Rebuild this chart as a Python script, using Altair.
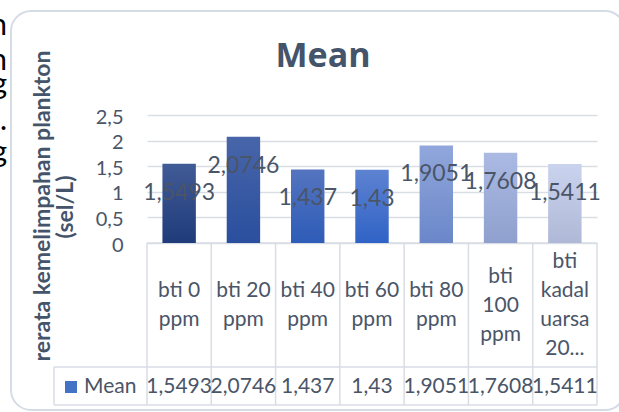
import altair as alt
import pandas as pd

# ---------------- data ----------------
categories = ["bti 0 ppm", "bti 20 ppm", "bti 40 ppm", "bti 60 ppm",
              "bti 80 ppm", "bti 100 ppm", "bti kadaluarsa 20..."]
table_labels = ["bti 0\nppm", "bti 20\nppm", "bti 40\nppm", "bti 60\nppm",
                "bti 80\nppm", "bti\n100\nppm", "bti\nkadal\nuarsa\n20..."]
means = [1.5493, 2.0746, 1.437, 1.43, 1.9051, 1.7608, 1.5411]
y_ticks = [0, 0.5, 1, 1.5, 2, 2.5]
series_name = "Mean"
chart_title = "Mean"
y_title_lines = ["rerata kemelimpahan plankton", "(sel/L)"]
doc_fragments = ["n", "n", "g", ".", "g"]

# bar gradient colours (top, bottom)
bar_top = ["#415B96", "#4865A9", "#5474BF", "#5D82D1", "#91A7DC", "#ABBAE3", "#CAD3EE"]
bar_bottom = ["#1F3B7A", "#2A4F9E", "#2E5CB8", "#3063C6", "#6B87C9", "#8FA0CE", "#AFB9D7"]

df = pd.DataFrame({"category": categories, "tlabel": table_labels, "mean": means})

# ---------------- layout ----------------
L, T, W, H = 147, 115, 450, 128
TXT = "#4A5568"
TITLE = "#44546A"
LINE = "#D9DDE4"
FONT = "Lato"
LH = 29
ROW_MID = 190.5

xs = alt.Scale(domain=categories, paddingInner=0, paddingOuter=0)
X = alt.X("category:N", scale=xs, axis=None, sort=categories)
Y = alt.Y("mean:Q", scale=alt.Scale(domain=[0, 2.5]),
          axis=alt.Axis(values=y_ticks, grid=True, gridColor=LINE, gridWidth=1.5,
                        domain=False, ticks=False, labelPadding=24, labelFont=FONT,
                        labelFontSize=20, labelColor=TXT, labelOffset=2, title=None,
                        labelExpr="replace(format(datum.value, '~g'), '.', ',')"))

base = alt.Chart(df).transform_calculate(
    label="replace(format(datum.mean, '.5~g'), '.', ',')",
    nlines="length(split(datum.tlabel, '\\n'))",
)

layers = []
for i, cat in enumerate(categories):
    grad = {"gradient": "linear", "x1": 0, "x2": 0, "y1": 0, "y2": 1,
            "stops": [{"offset": 0, "color": bar_top[i]},
                      {"offset": 1, "color": bar_bottom[i]}]}
    layers.append(
        base.transform_filter(alt.datum.category == cat)
        .mark_bar(width=alt.RelativeBandSize(0.52), color=grad)
        .encode(x=X, y=Y)
    )

labels = base.mark_text(dy=29, font=FONT, fontSize=23, color=TXT).encode(
    x=X, y=Y, text="label:N")

one = alt.Chart(pd.DataFrame({"k": [0]}))

# table lines
vlines = base.mark_rule(color=LINE, strokeWidth=1.5).encode(
    x=alt.X("category:N", scale=xs, axis=None, sort=categories, bandPosition=0),
    y=alt.value(H), y2=alt.value(290))
vlast = base.transform_filter(alt.datum.category == categories[-1]).mark_rule(
    color=LINE, strokeWidth=1.5).encode(
    x=alt.X("category:N", scale=xs, axis=None, sort=categories, bandPosition=1),
    y=alt.value(H), y2=alt.value(290))
hl0 = one.mark_rule(color=LINE, strokeWidth=1.5).encode(
    x=alt.value(0), x2=alt.value(W), y=alt.value(H))
hl1 = one.mark_rule(color=LINE, strokeWidth=1.5).encode(
    x=alt.value(-93), x2=alt.value(W), y=alt.value(252))
hl2 = one.mark_rule(color=LINE, strokeWidth=1.5).encode(
    x=alt.value(-93), x2=alt.value(W), y=alt.value(290))
vleft = one.mark_rule(color=LINE, strokeWidth=1.5).encode(
    x=alt.value(-93), y=alt.value(252), y2=alt.value(290))

cat_layers = []
for n in (2, 3, 4):
    cat_layers.append(
        base.transform_filter(alt.datum.nlines == n)
        .mark_text(lineBreak="\n", lineHeight=LH, font=FONT, fontSize=21,
                   color=TXT, baseline="middle")
        .encode(x=X, y=alt.value(ROW_MID - (n - 1) * LH / 2), text="tlabel:N")
    )
val_text = base.mark_text(font=FONT, fontSize=21, color=TXT, baseline="middle").encode(
    x=X, y=alt.value(272), text="label:N")

leg_sq = one.mark_square(size=144, color="#4472C4", opacity=1).encode(
    x=alt.value(-76), y=alt.value(272))
leg_txt = one.mark_text(font=FONT, fontSize=21, color=TXT, align="left",
                        baseline="middle", text=series_name).encode(
    x=alt.value(-63), y=alt.value(272))

title = one.mark_text(font="Open Sans", fontSize=34, fontWeight="bold", color=TITLE,
                      baseline="middle", text=chart_title).encode(
    x=alt.value(176), y=alt.value(-58))

yt1 = one.mark_text(font=FONT, fontSize=23, fontWeight="bold", color=TITLE, angle=270,
                    baseline="middle", text=y_title_lines[0]).encode(
    x=alt.value(-104), y=alt.value(91))
yt2 = one.mark_text(font=FONT, fontSize=23, fontWeight="bold", color=TITLE, angle=270,
                    baseline="middle", text=y_title_lines[1]).encode(
    x=alt.value(-81), y=alt.value(92))

border = one.mark_rect(cornerRadius=20, fill="white", fillOpacity=0, stroke="#D6DCE6",
                       strokeWidth=2).encode(
    x=alt.value(-136), x2=alt.value(478), y=alt.value(-104), y2=alt.value(295))

frag_y = [35, 70, 94, 130, 162]
frags = [one.mark_text(font=FONT, fontSize=30, color="black", align="right",
                       baseline="alphabetic", text=ch).encode(
    x=alt.value(7 - L), y=alt.value(yy - T)) for ch, yy in zip(doc_fragments, frag_y)]

chart = alt.layer(
    border, *frags, vlines, vlast, hl0, hl1, hl2, vleft, *layers, labels,
    *cat_layers, val_text, leg_sq, leg_txt, title, yt1, yt2
).properties(
    width=W, height=H,
    padding={"left": L, "top": T, "right": 619 - L - W, "bottom": 412 - T - H},
    autosize=alt.AutoSizeParams(type="none"),
    background="white",
).configure_view(stroke=None)

chart.save("out.html", embed_options={"renderer": "svg", "actions": False})
